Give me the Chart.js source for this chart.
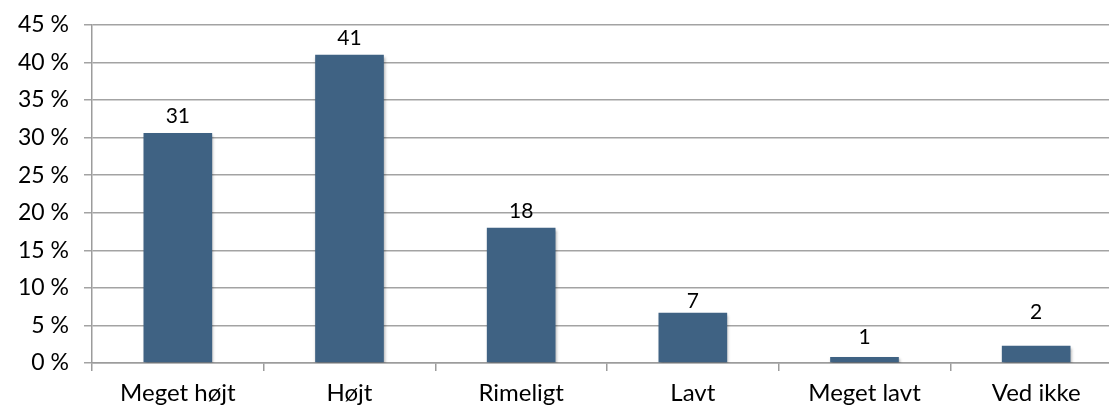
<!DOCTYPE html>
<html>
<head>
<meta charset="utf-8">
<script src="https://cdn.jsdelivr.net/npm/chart.js@4"></script>
<style>
  html, body { margin: 0; padding: 0; background: #fff; overflow: hidden; }
  #wrap { position: relative; width: 1130px; height: 407px; }
</style>
</head>
<body>
<div id="wrap"><canvas id="chart"></canvas></div>
<script>
const categories = ["Meget højt", "Højt", "Rimeligt", "Lavt", "Meget lavt", "Ved ikke"];
const shares = [30.6, 41.0, 18.0, 6.7, 0.8, 2.3];
const shownLabels = ["31", "41", "18", "7", "1", "2"];
const yTicks = [0, 5, 10, 15, 20, 25, 30, 35, 40, 45];

const FONT = "Lato, 'Open Sans', sans-serif";

// small nudge per label, the source placed them by hand
const labelLift = [6, 6, 6, 1, 9, 23];

const barShadow = {
  id: "barShadow",
  beforeDatasetsDraw(chart) {
    const ctx = chart.ctx;
    ctx.save();
    ctx.shadowColor = "rgba(0,0,0,0.35)";
    ctx.shadowBlur = 3;
    ctx.shadowOffsetX = 1;
    ctx.shadowOffsetY = 2;
  },
  afterDatasetsDraw(chart) {
    chart.ctx.restore();
  }
};

const valueLabels = {
  id: "valueLabels",
  afterDatasetsDraw(chart) {
    const ctx = chart.ctx;
    const meta = chart.getDatasetMeta(0);
    ctx.save();
    ctx.font = "21px " + FONT;
    ctx.fillStyle = "#000";
    ctx.textAlign = "center";
    ctx.textBaseline = "bottom";
    meta.data.forEach((bar, i) => {
      ctx.fillText(shownLabels[i], bar.x, bar.y - labelLift[i]);
    });
    ctx.restore();
  }
};

new Chart(document.getElementById("chart"), {
  type: "bar",
  data: {
    labels: categories,
    datasets: [{
      data: shares,
      backgroundColor: "#3f6283",
      borderWidth: 0,
      barPercentage: 0.4,
      categoryPercentage: 1.0
    }]
  },
  options: {
    responsive: true,
    maintainAspectRatio: false,
    animation: false,
    layout: { padding: { top: 0, right: 8, left: 0, bottom: 0 } },
    plugins: {
      legend: { display: false },
      tooltip: { enabled: false }
    },
    scales: {
      x: {
        grid: {
          display: true,
          drawOnChartArea: false,
          offset: true,
          tickLength: 8,
          color: "#9c9c9c",
          lineWidth: 1.5
        },
        border: { display: true, color: "#9c9c9c", width: 1.5 },
        ticks: {
          color: "#000",
          font: { family: FONT, size: 24 },
          padding: 8,
          maxRotation: 0
        },
        afterFit(scale) { scale.height = 44; }
      },
      y: {
        min: 0,
        max: 45,
        afterBuildTicks(scale) {
          scale.ticks = yTicks.map(v => ({ value: v }));
        },
        grid: {
          color: "#a3a3a3",
          lineWidth: 1.5,
          tickLength: 8
        },
        border: { display: true, color: "#9c9c9c", width: 1.5 },
        ticks: {
          color: "#000",
          font: { family: FONT, size: 23, lineHeight: 0.85 },
          padding: 15,
          callback: v => v + " %"
        },
        afterFit(scale) { scale.width = 92; }
      }
    }
  },
  plugins: [barShadow, valueLabels]
});
</script>
</body>
</html>
